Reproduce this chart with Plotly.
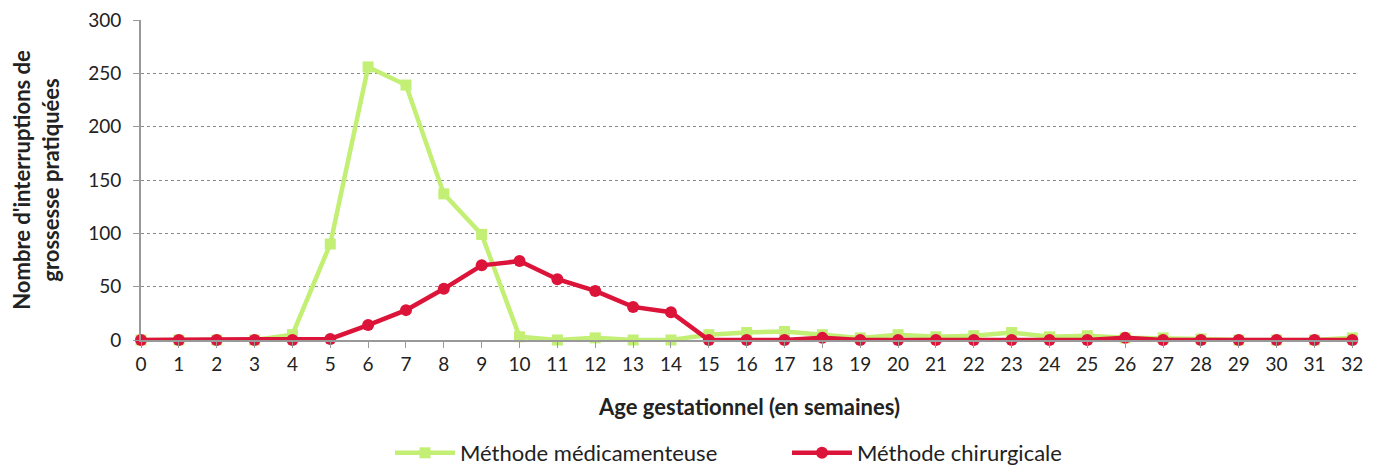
import plotly.graph_objects as go

weeks = list(range(0, 33))
medicamenteuse = [0, 0, 0, 0, 5, 90, 256, 239, 137, 99, 3, 0, 2, 0, 0, 5, 7, 8, 5, 2,
                  5, 3, 4, 7, 3, 4, 2, 2, 1, 0, 0, 0, 2]
chirurgicale = [0, 0, 0, 0, 0, 1, 14, 28, 48, 70, 74, 57, 46, 31, 26, 0, 0, 0, 2, 0,
                0, 0, 0, 0, 0, 0, 2, 0, 0, 0, 0, 0, 0]
y_ticks = [0, 50, 100, 150, 200, 250, 300]

green = "#C2EF74"
red = "#DC1439"
font = "Lato"

W, H = 1382, 465
ml, mr, mt, mb = 133, 32, 12, 133

fig = go.Figure()
fig.add_trace(go.Scatter(
    x=weeks, y=medicamenteuse, mode="lines+markers", name="Méthode médicamenteuse",
    line=dict(color=green, width=4.5), marker=dict(symbol="square", size=11, color=green),
    cliponaxis=False))
fig.add_trace(go.Scatter(
    x=weeks, y=chirurgicale, mode="lines+markers", name="Méthode chirurgicale",
    line=dict(color=red, width=4.5), marker=dict(symbol="circle", size=12, color=red),
    cliponaxis=False))

fig.update_layout(
    width=W, height=H,
    margin=dict(l=ml, r=mr, t=mt, b=mb, autoexpand=False),
    paper_bgcolor="white", plot_bgcolor="white",
    font=dict(family=font, size=18, color="#222"),
    showlegend=True,
    legend=dict(orientation="h", xref="container", x=382 / W, xanchor="left",
                yref="container", y=1 - 445 / H, yanchor="middle",
                font=dict(size=22, color="#222"), itemwidth=60,
                entrywidthmode="pixels", entrywidth=322),
    xaxis=dict(range=[0, 32.15], tickmode="array", tickvals=weeks,
               ticktext=[str(w) for w in weeks], showgrid=False, zeroline=False,
               showline=True, linecolor="#999", linewidth=2, ticks="outside",
               ticklen=6, tickcolor="#999", tickwidth=1,
               tickfont=dict(size=19, color="#222"),
               title=dict(text="<b>Age gestationnel (en semaines)</b>", standoff=26,
                          font=dict(size=22, color="#222"))),
    yaxis=dict(range=[0, 300], tickmode="array", tickvals=y_ticks, showgrid=True,
               gridcolor="#888", griddash="dot", gridwidth=1, zeroline=False,
               showline=True, linecolor="#999", linewidth=2, ticks="outside",
               ticklen=6, tickcolor="#999", tickfont=dict(size=19, color="#222"),
               ticklabeloverflow="allow", ticklabelstandoff=8,
               title=dict(text="<b>Nombre d'interruptions de<br>grossesse pratiquées</b>",
                          standoff=28, font=dict(size=22, color="#222"))),
)

fig.write_html("out.html")
